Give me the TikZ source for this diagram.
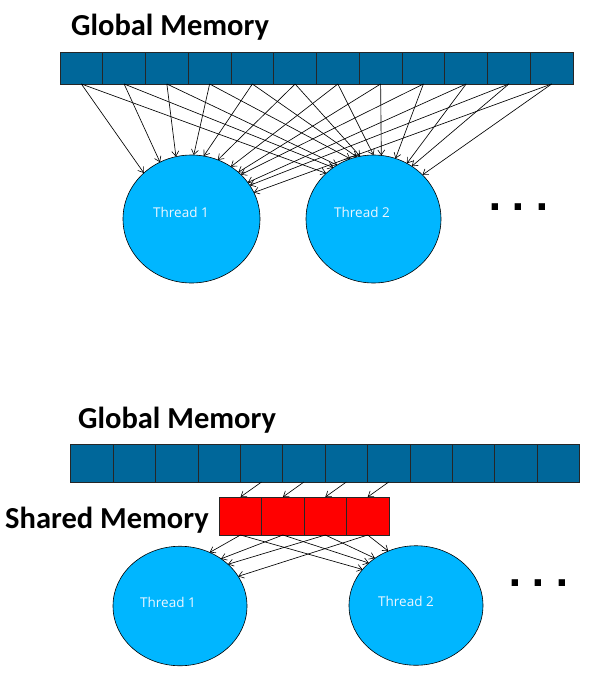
\documentclass[tikz,border=0pt]{standalone}
\usepackage{fontspec}
\setmainfont{Carlito}
\newfontfamily\thrfont{Open Sans}
\newfontfamily\dotfont{DejaVu Sans}
\usetikzlibrary{shapes.geometric,arrows.meta}
\definecolor{gblue}{RGB}{0,103,154}
\definecolor{tblue}{RGB}{0,182,255}
\definecolor{tlabel}{RGB}{236,246,255}
\definecolor{sred}{RGB}{255,0,0}
\tikzset{
  gcell/.style={draw=black!85, line width=0.7pt, fill=gblue, minimum width=42.75pt, minimum height=32pt, inner sep=0pt, outer sep=0pt},
  bcell/.style={gcell, minimum width=42.4pt, minimum height=38pt},
  scell/.style={bcell, fill=sred},
  thread/.style={ellipse, draw=black, line width=0.6pt, fill=tblue, inner sep=0pt, outer sep=0pt},
  tlab/.style={text=tlabel, font=\thrfont\fontsize{13.5}{15}\selectfont, inner sep=0pt},
  title/.style={anchor=base west, inner sep=0pt, font=\bfseries\fontsize{30.5}{32}\selectfont},
  dots/.style={anchor=base west, inner sep=0pt, font=\dotfont\bfseries\fontsize{36}{40}\selectfont},
  arr/.style={line width=0.65pt, -{Straight Barb[length=5pt,width=7pt,line width=0.6pt]}}
}
\newcommand{\threedots}{.\hspace{9.5pt}.\hspace{9.5pt}.}
\begin{document}
\begin{tikzpicture}[x=1pt,y=-1pt]
\useasboundingbox (0,0) rectangle (594,680);
% ---------- top part ----------
\node[title] (title1) at (71,35) {Global Memory};
\foreach \i in {1,...,12}{
  \node[gcell] (g\i) at ({60+42.75*(\i-0.5)},68) {};
}
\node[thread, minimum width=137pt, minimum height=128pt] (t1) at (191.5,219) {};
\node[thread, minimum width=135pt, minimum height=128pt] (t2) at (373.5,219) {};
\node[tlab] (t1l) at (181,212.5) {Thread 1};
\node[tlab] (t2l) at (362,212.5) {Thread 2};
\node[dots] (dots1) at (488.5,210.5) {\threedots};
% arrows to thread 1
\foreach \i/\a in {1/136.5,2/119.7,3/104.9,4/88.7,5/79,6/66,7/53.5,8/45.9,9/42.4,10/33.7,11/30.3,12/23.9}{
  \draw[arr] (g\i.south) -- (t1.\a);
}
% arrows to thread 2
\foreach \i/\a in {1/136.2,2/128.4,3/124.2,4/111.2,5/105.7,6/102,7/90,8/83.2,9/70,10/59.2,11/54.5,12/42.7}{
  \draw[arr] (g\i.south) -- (t2.\a);
}
% ---------- bottom part ----------
\node[title] (title2) at (78,428) {Global Memory};
\node[title] (title3) at (5,528) {Shared Memory};
\foreach \i in {1,...,12}{
  \node[bcell] (b\i) at ({70.7+42.4*(\i-0.5)},463) {};
}
\foreach \i in {1,...,4}{
  \node[scell] (s\i) at ({219.3+42.4*(\i-0.5)},516) {};
}
\node[thread, minimum width=134pt, minimum height=119.5pt] (u1) at (180,606) {};
\node[thread, minimum width=134pt, minimum height=119.5pt] (u2) at (416,605.5) {};
\node[tlab] (u1l) at (168,602) {Thread 1};
\node[tlab] (u2l) at (406,601) {Thread 2};
\node[dots] (dots2) at (508.5,586.5) {\threedots};
\foreach \i [evaluate=\i as \j using int(\i+4)] in {1,...,4}{
  \draw[arr] (b\j.south) -- (s\i.north);
}
\foreach \i/\a/\b in {1/61.8/146.9,2/49.4/138.4,3/41.9/131.6,4/27.3/117.6}{
  \draw[arr] (s\i.south) -- (u1.\a);
  \draw[arr] (s\i.south) -- (u2.\b);
}
\end{tikzpicture}
\end{document}
